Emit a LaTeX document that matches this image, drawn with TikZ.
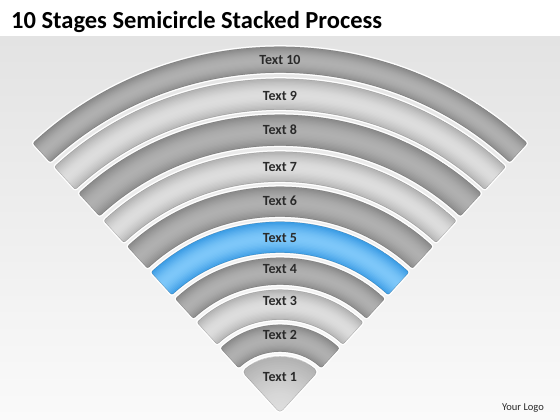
\documentclass[tikz,border=0pt]{standalone}
\usepackage{fontspec}
\setmainfont{Carlito}
\definecolor{dkedge}{HTML}{8A8A8A}
\definecolor{dkmid}{HTML}{B0B0B0}
\definecolor{ltedge}{HTML}{B2B2B2}
\definecolor{ltmid}{HTML}{DDDDDD}
\definecolor{blEdge}{HTML}{3A9BE4}
\definecolor{blMid}{HTML}{7DC7F9}
\definecolor{txt}{HTML}{2A2A2A}
\definecolor{bgtop}{HTML}{E3E3E3}
\definecolor{bgbot}{HTML}{FAFAFA}
\tikzset{
  lbl/.style={font=\bfseries\fontsize{14}{16}\selectfont, text=txt, inner sep=0pt},
  halo/.style={draw=white, line width=3pt, rounded corners=2pt},
  rim/.style={draw=black, draw opacity=0.18, line width=0.5pt, rounded corners=2pt}
}
% #1 inner radius, #2 outer radius, #3 edge colour, #4 middle colour
\newcommand{\myband}[4]{%
  \def\bandpath{(C) ++(132.5:#2) arc[start angle=132.5, end angle=47.5, radius=#2] -- ($(C)+(47.5:#1)$) arc[start angle=47.5, end angle=132.5, radius=#1] -- cycle}%
  \path[halo] \bandpath;
  \begin{scope}
    \clip[rounded corners=2pt] \bandpath;
    \foreach \k in {0,...,23}{%
      \pgfmathsetmacro\s{(\k+0.5)/24}%
      \pgfmathsetmacro\rr{#1+\s*(#2-#1)}%
      \pgfmathsetmacro\pp{100*sin(180*\s)}%
      \pgfmathsetmacro\lw{(#2-#1)/24+0.6}%
      \draw[line width=\lw pt, color=#4!\pp!#3] (C) ++(134:\rr) arc[start angle=134, end angle=46, radius=\rr];
    }
  \end{scope}
  \path[rim] \bandpath;
}
\usetikzlibrary{calc}
\begin{document}
\begin{tikzpicture}[x=1pt,y=1pt]
  \useasboundingbox (0,0) rectangle (560,420);
  \fill[white] (0,0) rectangle (560,420);
  \shade[top color=bgtop, bottom color=bgbot] (0,0) rectangle (560,383);
  \coordinate (C) at (280,7);
  % bands from outside in
  \myband{340}{366}{dkedge}{dkmid}
  \myband{303}{334}{ltedge}{ltmid}
  \myband{267}{298}{dkedge}{dkmid}
  \myband{231}{261}{ltedge}{ltmid}
  \myband{196}{226}{dkedge}{dkmid}
  \myband{160}{191}{blEdge}{blMid}
  \myband{128}{155}{dkedge}{dkmid}
  \myband{93}{123}{ltedge}{ltmid}
  \myband{61}{88}{dkedge}{dkmid}
  % innermost sector
  \def\secpath{(C) -- ++(47.5:56) arc[start angle=47.5, end angle=132.5, radius=56] -- cycle}
  \path[halo, rounded corners=4pt] \secpath;
  \begin{scope}
    \clip[rounded corners=4pt] \secpath;
    \foreach \k in {0,...,23}{%
      \pgfmathsetmacro\s{(\k+0.5)/24}%
      \pgfmathsetmacro\rr{\s*56}%
      \pgfmathsetmacro\pp{100*sin(90+90*\s)}%
      \draw[line width=2.9pt, color=ltmid!\pp!ltedge] (C) ++(134:\rr) arc[start angle=134, end angle=46, radius=\rr];
    }
  \end{scope}
  \path[rim, rounded corners=4pt] \secpath;
  % labels
  \node[lbl] (t10) at (280,360) {Text 10};
  \node[lbl] (t9) at (280,324) {Text 9};
  \node[lbl] (t8) at (280,290) {Text 8};
  \node[lbl] (t7) at (280,253) {Text 7};
  \node[lbl] (t6) at (280,219) {Text 6};
  \node[lbl] (t5) at (280,182) {Text 5};
  \node[lbl] (t4) at (280,151) {Text 4};
  \node[lbl] (t3) at (280,119) {Text 3};
  \node[lbl] (t2) at (280,85) {Text 2};
  \node[lbl] (t1) at (280,43) {Text 1};
  % title and logo
  \node[anchor=west, inner sep=0pt, font=\bfseries\fontsize{24.5}{27}\selectfont, text=black] (title) at (11,398) {10 Stages Semicircle Stacked Process};
  \node[font=\fontsize{10.5}{12}\selectfont, text=txt, inner sep=0pt] (logo) at (523,12) {Your Logo};
\end{tikzpicture}
\end{document}
